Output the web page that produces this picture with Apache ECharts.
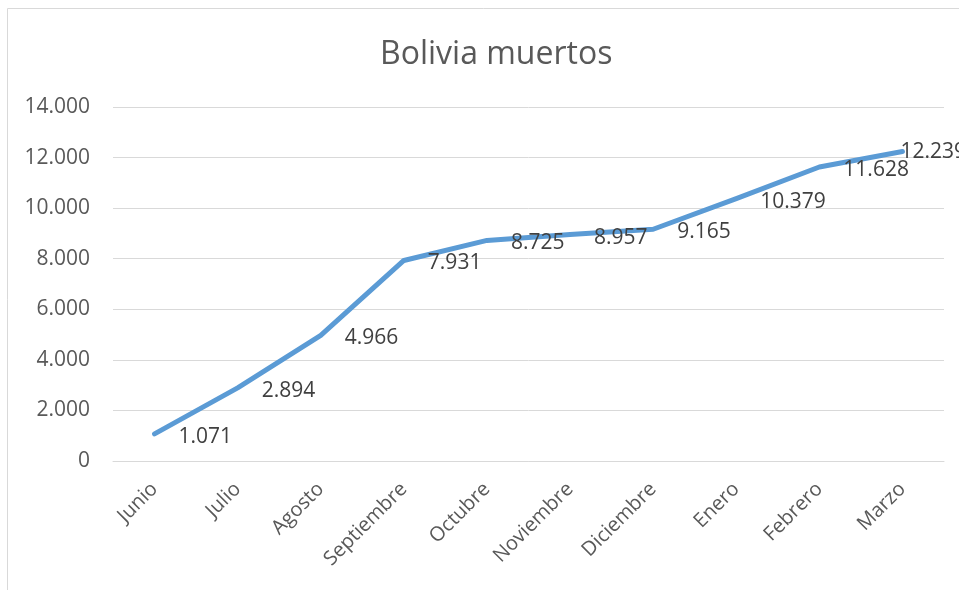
<!DOCTYPE html>
<html>
<head>
<meta charset="utf-8">
<script src="https://cdn.jsdelivr.net/npm/echarts@6/dist/echarts.min.js"></script>
<style>
  html, body { margin: 0; padding: 0; background: #fff; }
  #chart { width: 959px; height: 590px; }
</style>
</head>
<body>
<div id="chart"></div>
<script>
// datos
var meses = ['Junio', 'Julio', 'Agosto', 'Septiembre', 'Octubre', 'Noviembre', 'Diciembre', 'Enero', 'Febrero', 'Marzo'];
var muertos = [1071, 2894, 4966, 7931, 8725, 8957, 9165, 10379, 11628, 12239];
var ejeY = [0, 2000, 4000, 6000, 8000, 10000, 12000, 14000];

var fuente = '"Open Sans", "Noto Sans", sans-serif';
var gris = '#595959';

// separador de miles con punto
function miles(v) {
  return String(v).replace(/\B(?=(\d{3})+(?!\d))/g, '.');
}

var datos = muertos.map(function (v, i) {
  var item = { value: v };
  if (i === muertos.length - 1) {
    item.label = { offset: [-26, 0] };
  }
  return item;
});

var chart = echarts.init(document.getElementById('chart'));
chart.setOption({
  animation: false,
  textStyle: { fontFamily: fuente },
  graphic: [{
    type: 'rect',
    shape: { x: 7.5, y: 8.5, width: 1000, height: 1000 },
    style: { fill: 'none', stroke: '#d9d9d9', lineWidth: 1 },
    silent: true
  }],
  title: {
    text: 'Bolivia muertos',
    left: 375,
    top: 34,
    textStyle: { fontFamily: fuente, fontSize: 32, fontWeight: 'normal', color: gris }
  },
  grid: { left: 113, right: 15, top: 107, bottom: 129 },
  xAxis: {
    type: 'category',
    data: meses,
    boundaryGap: true,
    axisLine: { show: true, lineStyle: { color: '#d9d9d9', width: 1 } },
    axisTick: { show: false },
    axisLabel: { rotate: 45, margin: 25, fontSize: 20, color: gris, fontFamily: fuente, interval: 0 }
  },
  yAxis: {
    type: 'value',
    min: ejeY[0],
    max: ejeY[ejeY.length - 1],
    interval: 2000,
    axisLine: { show: false },
    axisTick: { show: false },
    splitLine: { lineStyle: { color: '#d9d9d9', width: 1 } },
    axisLabel: { margin: 23, fontSize: 21, color: gris, fontFamily: fuente, formatter: miles }
  },
  series: [{
    type: 'line',
    data: datos,
    showSymbol: true,
    symbol: 'circle',
    symbolSize: 2,
    lineStyle: { color: '#5b9bd5', width: 5, cap: 'round', join: 'round' },
    itemStyle: { color: 'rgba(0,0,0,0)', borderWidth: 0 },
    label: {
      show: true,
      position: 'right',
      distance: 23,
      offset: [0, 3],
      fontSize: 21,
      color: '#404040',
      fontFamily: fuente,
      formatter: function (p) { return miles(p.value); }
    }
  }]
});
</script>
</body>
</html>
